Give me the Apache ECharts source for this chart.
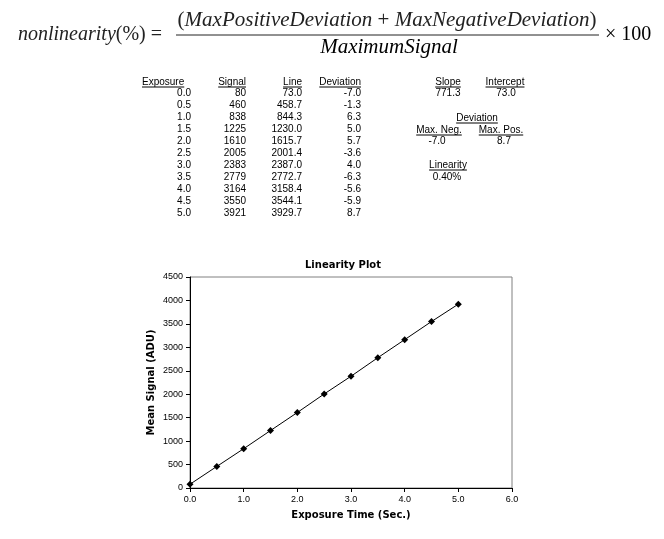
<!DOCTYPE html>
<html>
<head>
<meta charset="utf-8">
<script src="https://cdn.jsdelivr.net/npm/echarts@6/dist/echarts.min.js"></script>
<style>
html, body { margin: 0; padding: 0; background: #fff; }
#chart1 { width: 664px; height: 539px; }
</style>
</head>
<body>
<div id="chart1"></div>
<script>
// data
var exposure = [0.0, 0.5, 1.0, 1.5, 2.0, 2.5, 3.0, 3.5, 4.0, 4.5, 5.0];
var signal = [80, 460, 838, 1225, 1610, 2005, 2383, 2779, 3164, 3550, 3921];
var fitLine = [73.0, 458.7, 844.3, 1230.0, 1615.7, 2001.4, 2387.0, 2772.7, 3158.4, 3544.1, 3929.7];
var deviation = [-7.0, -1.3, 6.3, 5.0, 5.7, -3.6, 4.0, -6.3, -5.6, -5.9, 8.7];
var slope = [771.3];
var intercept = [73.0];
var maxNeg = [-7.0];
var maxPos = [8.7];
var linearity = ['0.40%'];
var xTicks = [0, 1, 2, 3, 4, 5, 6];
var yTicks = [0, 500, 1000, 1500, 2000, 2500, 3000, 3500, 4000, 4500];

var myChart1 = echarts.init(document.getElementById('chart1'));

var tableFont = '10px "Liberation Sans", Arial, sans-serif';
var measureCtx = document.createElement('canvas').getContext('2d');
function textWidth(str, font) {
    measureCtx.font = font;
    return measureCtx.measureText(str).width;
}

var graphics = [];
function addText(str, x, y, align, font) {
    graphics.push({ type: 'text', silent: true, style: {
        text: str, x: x, y: y, textAlign: align, textVerticalAlign: 'middle', font: font, fill: '#000' } });
}
// header with underline
function addHeader(str, x, y, align) {
    addText(str, x, y, align, tableFont);
    var w = textWidth(str, tableFont);
    var x1 = align === 'right' ? x - w : (align === 'center' ? x - w / 2 : x);
    graphics.push({ type: 'line', silent: true,
        shape: { x1: x1, y1: y + 5, x2: x1 + w, y2: y + 5 },
        style: { stroke: '#000', lineWidth: 1 } });
}

// formula
var mathFont = 'italic 21px "Liberation Serif", "DejaVu Serif", serif';
var upFont = '21px "Liberation Serif", "DejaVu Serif", serif';
graphics.push({ type: 'text', silent: true, style: {
    text: '{i|nonlinearity}{u|(%) =}', x: 18, y: 35, textVerticalAlign: 'middle',
    rich: { i: { font: 'italic 20px "Liberation Serif", serif', fill: '#222' },
            u: { font: '20px "Liberation Serif", serif', fill: '#222' } } } });
graphics.push({ type: 'text', silent: true, style: {
    text: '{u|(}{i|MaxPositiveDeviation}{u| + }{i|MaxNegativeDeviation}{u|)}', x: 387, y: 20,
    textAlign: 'center', textVerticalAlign: 'middle',
    rich: { i: { font: mathFont, fill: '#222' }, u: { font: upFont, fill: '#222' } } } });
graphics.push({ type: 'line', silent: true, shape: { x1: 176, y1: 35, x2: 599, y2: 35 },
    style: { stroke: '#222', lineWidth: 1 } });
addText('MaximumSignal', 389, 47, 'center', mathFont);
addText('× 100', 605, 35, 'left', '20px "Liberation Serif", serif');

// left table
var colRight = [191, 246, 302, 361];
addHeader('Exposure', 142, 82, 'left');
addHeader('Signal', colRight[1], 82, 'right');
addHeader('Line', colRight[2], 82, 'right');
addHeader('Deviation', colRight[3], 82, 'right');
for (var i = 0; i < exposure.length; i++) {
    var y = 93 + 12 * i;
    addText(exposure[i].toFixed(1), colRight[0], y, 'right', tableFont);
    addText(String(signal[i]), colRight[1], y, 'right', tableFont);
    addText(fitLine[i].toFixed(1), colRight[2], y, 'right', tableFont);
    addText(deviation[i].toFixed(1), colRight[3], y, 'right', tableFont);
}

// right block
addHeader('Slope', 448, 82, 'center');
addHeader('Intercept', 505, 82, 'center');
addText(slope[0].toFixed(1), 448, 93, 'center', tableFont);
addText(intercept[0].toFixed(1), 506, 93, 'center', tableFont);
addHeader('Deviation', 477, 118, 'center');
addHeader('Max. Neg.', 439, 130, 'center');
addHeader('Max. Pos.', 501, 130, 'center');
addText(maxNeg[0].toFixed(1), 437, 141, 'center', tableFont);
addText(maxPos[0].toFixed(1), 504, 141, 'center', tableFont);
addHeader('Linearity', 448, 165, 'center');
addText(linearity[0], 447, 177, 'center', tableFont);

// chart title
addText('Linearity Plot', 343, 265, 'center', 'bold 10px "DejaVu Sans", sans-serif');

var points = exposure.map(function (x, i) { return [x, signal[i]]; });

var option = {
    backgroundColor: '#fff',
    animation: false,
    grid: {
        left: 190, right: 152, top: 277, bottom: 51,
        show: true, borderColor: '#808080', borderWidth: 1
    },
    xAxis: {
        type: 'value',
        min: xTicks[0], max: xTicks[xTicks.length - 1], interval: 1,
        axisLine: { onZero: false, lineStyle: { color: '#000', width: 1 } },
        axisTick: { show: true, inside: false, length: 4, lineStyle: { color: '#000' } },
        axisLabel: { color: '#000', fontSize: 9, fontFamily: 'Liberation Sans', margin: 7,
            formatter: function (v) { return v.toFixed(1); } },
        splitLine: { show: false },
        name: 'Exposure Time (Sec.)',
        nameLocation: 'middle', nameGap: 22,
        nameTextStyle: { color: '#000', fontWeight: 'bold', fontSize: 10, fontFamily: 'DejaVu Sans' }
    },
    yAxis: {
        type: 'value',
        min: yTicks[0], max: yTicks[yTicks.length - 1], interval: 500,
        axisLine: { show: true, lineStyle: { color: '#000', width: 1 } },
        axisTick: { show: true, inside: false, length: 4, lineStyle: { color: '#000' } },
        axisLabel: { color: '#000', fontSize: 9, fontFamily: 'Liberation Sans', margin: 7,
            formatter: function (v) { return String(v); } },
        splitLine: { show: false },
        name: 'Mean Signal (ADU)',
        nameLocation: 'middle', nameGap: 34, nameRotate: 90,
        nameTextStyle: { color: '#000', fontWeight: 'bold', fontSize: 10, fontFamily: 'DejaVu Sans' }
    },
    series: [
        {
            name: 'Signal',
            type: 'line',
            data: points,
            symbol: 'diamond',
            symbolSize: 7,
            itemStyle: { color: '#000' },
            lineStyle: { color: '#000', width: 1 }
        }
    ],
    graphic: graphics
};
myChart1.setOption(option);
</script>
</body>
</html>
